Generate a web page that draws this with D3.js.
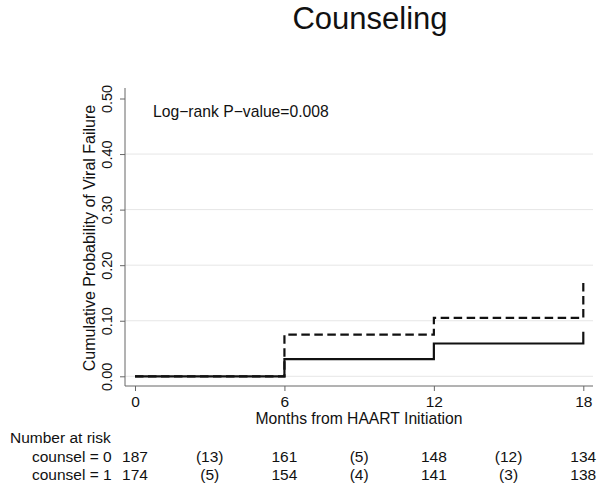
<!DOCTYPE html>
<html>
<head>
<meta charset="utf-8">
<script src="https://cdn.jsdelivr.net/npm/d3@7"></script>
<style>
  html, body { margin: 0; padding: 0; background: #fff; }
  svg { display: block; font-family: "Liberation Sans", Arial, Helvetica, sans-serif; }
</style>
</head>
<body>
<svg id="chart" width="598" height="486"></svg>
<script>
// Kaplan–Meier cumulative failure by counseling group
const months = [0, 6, 12, 18];
const failCounsel0 = [0, 0.075, 0.105, 0.176];   // dashed
const failCounsel1 = [0, 0.031, 0.059, 0.080];   // solid
const yTicks = [0, 0.1, 0.2, 0.3, 0.4, 0.5];
const gridTicks = [0, 0.1, 0.2, 0.3, 0.4];

// Number-at-risk table
const riskLabels = ["counsel = 0", "counsel = 1"];
const atRisk0 = [187, 161, 148, 134];
const atRisk1 = [174, 154, 141, 138];
const events0 = [13, 5, 12];
const events1 = [5, 4, 3];

const svg = d3.select("#chart");
const ink = "#111";
const axisGrey = "#666";

const plot = { left: 125, right: 593, top: 88, bottom: 386 };

const x = d3.scaleLinear().domain([0, 18]).range([135, 583.3]);
const y = d3.scaleLinear().domain([0, 0.5]).range([376.3, 98.5]);

// Title
svg.append("text")
  .attr("x", 370).attr("y", 29)
  .attr("text-anchor", "middle")
  .attr("font-size", 31)
  .attr("fill", ink)
  .text("Counseling");

// Gridlines
svg.append("g")
  .selectAll("line")
  .data(gridTicks)
  .join("line")
  .attr("x1", plot.left).attr("x2", plot.right)
  .attr("y1", d => y(d)).attr("y2", d => y(d))
  .attr("stroke", "#e6e6e6").attr("stroke-width", 1);

// Y axis
const yAxis = svg.append("g")
  .attr("transform", `translate(${plot.left},0)`)
  .call(d3.axisLeft(y).tickValues(yTicks).tickFormat(d3.format(".2f")).tickSize(5).tickSizeOuter(0));
yAxis.select(".domain").attr("d", `M0,${plot.top}V${plot.bottom}`).attr("stroke", axisGrey);
yAxis.selectAll(".tick line").attr("stroke", axisGrey);
yAxis.selectAll(".tick text")
  .attr("font-size", 14.5)
  .attr("fill", ink)
  .attr("font-family", null)
  .attr("text-anchor", "middle")
  .attr("x", null).attr("dy", null)
  .attr("transform", "translate(-13.5,0) rotate(-90)");

// X axis
const xAxis = svg.append("g")
  .attr("transform", `translate(0,${plot.bottom})`)
  .call(d3.axisBottom(x).tickValues(months).tickFormat(d3.format("d")).tickSize(5).tickSizeOuter(0));
xAxis.select(".domain").attr("d", `M${plot.left},0H${plot.right}`).attr("stroke", axisGrey);
xAxis.selectAll(".tick line").attr("stroke", axisGrey);
xAxis.selectAll(".tick text")
  .attr("font-size", 15.5)
  .attr("fill", ink)
  .attr("font-family", null)
  .attr("dy", null)
  .attr("y", 21);

// Axis titles
svg.append("text")
  .attr("transform", "translate(95,238) rotate(-90)")
  .attr("text-anchor", "middle")
  .attr("font-size", 16)
  .attr("fill", ink)
  .text("Cumulative Probability of Viral Failure");

svg.append("text")
  .attr("x", 359).attr("y", 424)
  .attr("text-anchor", "middle")
  .attr("font-size", 15.7)
  .attr("fill", ink)
  .text("Months from HAART Initiation");

// Log-rank annotation
svg.append("text")
  .attr("x", 153).attr("y", 117)
  .attr("font-size", 15.7)
  .attr("fill", ink)
  .text("Log\u2212rank P\u2212value=0.008");

// Step curves
const step = d3.line()
  .x((d, i) => x(months[i]))
  .y(d => y(d))
  .curve(d3.curveStepAfter);

svg.append("path")
  .attr("d", step(failCounsel0))
  .attr("fill", "none")
  .attr("stroke", ink)
  .attr("stroke-width", 2.2)
  .attr("stroke-dasharray", "8.5,4.5");

svg.append("path")
  .attr("d", step(failCounsel1))
  .attr("fill", "none")
  .attr("stroke", ink)
  .attr("stroke-width", 2.2);

// Number-at-risk table
const table = svg.append("g").attr("font-size", 15.5).attr("fill", ink);
table.append("text").attr("x", 10).attr("y", 443).text("Number at risk");

const rowY = [461.5, 479.5];
const atRiskRows = [atRisk0, atRisk1];
const eventRows = [events0, events1];

riskLabels.forEach((lab, r) => {
  table.append("text").attr("x", 32).attr("y", rowY[r]).text(lab);
  table.selectAll(null)
    .data(atRiskRows[r])
    .join("text")
    .attr("x", (d, i) => x(months[i]))
    .attr("y", rowY[r])
    .attr("text-anchor", "middle")
    .text(d => d);
  table.selectAll(null)
    .data(eventRows[r])
    .join("text")
    .attr("x", (d, i) => (x(months[i]) + x(months[i + 1])) / 2)
    .attr("y", rowY[r])
    .attr("text-anchor", "middle")
    .text(d => `(${d})`);
});
</script>
</body>
</html>
